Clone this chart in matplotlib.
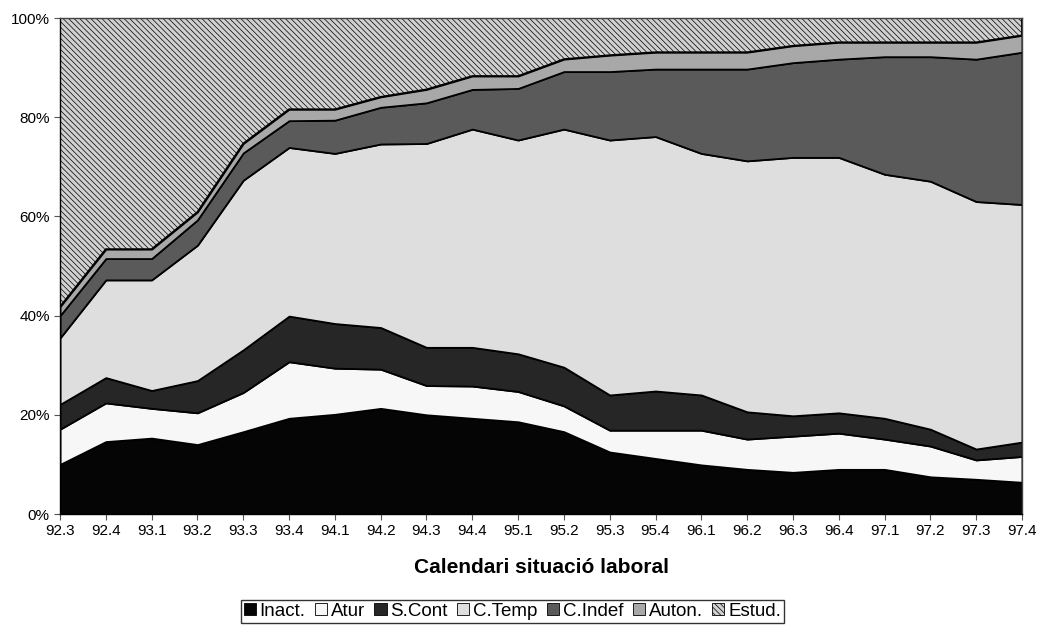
import matplotlib.pyplot as plt
from matplotlib.patches import Patch

plt.rcParams['font.family'] = ['Liberation Sans', 'DejaVu Sans']
plt.rcParams['hatch.linewidth'] = 0.5
plt.rcParams['hatch.color'] = '#b9b9b9'

periods = ['92.3', '92.4', '93.1', '93.2', '93.3', '93.4', '94.1', '94.2', '94.3', '94.4', '95.1',
           '95.2', '95.3', '95.4', '96.1', '96.2', '96.3', '96.4', '97.1', '97.2', '97.3', '97.4']

# percentages
inact = [10.0, 14.6, 15.3, 14.0, 16.6, 19.3, 20.1, 21.3, 20.0, 19.3, 18.6, 16.6, 12.5, 11.2, 9.9, 9.0, 8.4, 9.0, 9.0, 7.5, 7.0, 6.4]
atur = [7.1, 7.8, 6.0, 6.4, 7.9, 11.4, 9.3, 7.9, 5.9, 6.5, 6.1, 5.2, 4.4, 5.7, 7.0, 6.1, 7.3, 7.3, 6.1, 6.2, 3.9, 5.2]
s_cont = [5.0, 5.1, 3.6, 6.5, 8.6, 9.2, 9.0, 8.4, 7.7, 7.8, 7.6, 7.8, 7.1, 7.9, 7.1, 5.5, 4.1, 4.1, 4.2, 3.4, 2.2, 2.9]
c_temp = [13.4, 19.7, 22.3, 27.3, 34.2, 34.0, 34.3, 37.0, 41.1, 44.0, 43.1, 48.0, 51.4, 51.3, 48.7, 50.6, 52.1, 51.5, 49.2, 50.0, 49.9, 47.9]
c_indef = [4.5, 4.3, 4.3, 5.1, 5.5, 5.4, 6.7, 7.4, 8.2, 8.0, 10.4, 11.6, 13.8, 13.6, 17.0, 18.5, 19.1, 19.8, 23.7, 25.1, 28.7, 30.7]
auton = [1.8, 1.9, 1.9, 1.6, 1.9, 2.3, 2.2, 2.1, 2.7, 2.7, 2.5, 2.5, 3.3, 3.4, 3.4, 3.4, 3.4, 3.4, 2.9, 2.9, 3.4, 3.4]
estud = [58.2, 46.6, 46.6, 39.1, 25.3, 18.4, 18.4, 15.9, 14.4, 11.7, 11.7, 8.3, 7.5, 6.9, 6.9, 6.9, 5.6, 4.9, 4.9, 4.9, 4.9, 3.5]

names = ['Inact.', 'Atur', 'S.Cont', 'C.Temp', 'C.Indef', 'Auton.', 'Estud.']
series = [inact, atur, s_cont, c_temp, c_indef, auton, estud]
colors = ['#050505', '#f7f7f7', '#262626', '#dedede', '#5a5a5a', '#a8a8a8', '#d0d0d0']
hatches = [None, None, None, None, None, None, '\\\\\\\\\\\\']

fig = plt.figure(figsize=(10.37, 6.25), dpi=100)
ax = fig.add_axes([0.0579, 0.1776, 0.9276, 0.7936])

x = list(range(len(periods)))
polys = ax.stackplot(x, *series, colors=colors, edgecolor='black', linewidth=1.3)
for p, h in zip(polys, hatches):
    if h:
        p.set_hatch(h)

ax.set_xlim(0, len(periods) - 1)
ax.set_ylim(0, 100)
ax.set_xticks(x)
ax.set_xticklabels(periods, fontsize=11)
ax.set_yticks([0, 20, 40, 60, 80, 100])
ax.set_yticklabels(['0%', '20%', '40%', '60%', '80%', '100%'], fontsize=11)
ax.tick_params(direction='out', length=4, width=0.8, color='#555555')
for s in ax.spines.values():
    s.set_color('#444444')
    s.set_linewidth(1.0)
ax.spines['left'].set_color('black')
ax.spines['bottom'].set_color('black')

ax.set_xlabel('Calendari situació laboral', fontsize=15, fontweight='bold', labelpad=14)

handles = [Patch(facecolor=c, edgecolor='black', linewidth=0.6, hatch=h) for c, h in zip(colors, hatches)]
leg = fig.legend(handles, names, loc='lower center', bbox_to_anchor=(0.494, 0.004), ncol=7,
                 fontsize=13.5, frameon=True, fancybox=False, handlelength=0.65, handleheight=0.65,
                 handletextpad=0.2, columnspacing=0.5, borderpad=0.15, borderaxespad=0.0)
leg.get_frame().set_edgecolor('black')
leg.get_frame().set_linewidth(1.0)

fig.savefig('out.png', dpi=100)
